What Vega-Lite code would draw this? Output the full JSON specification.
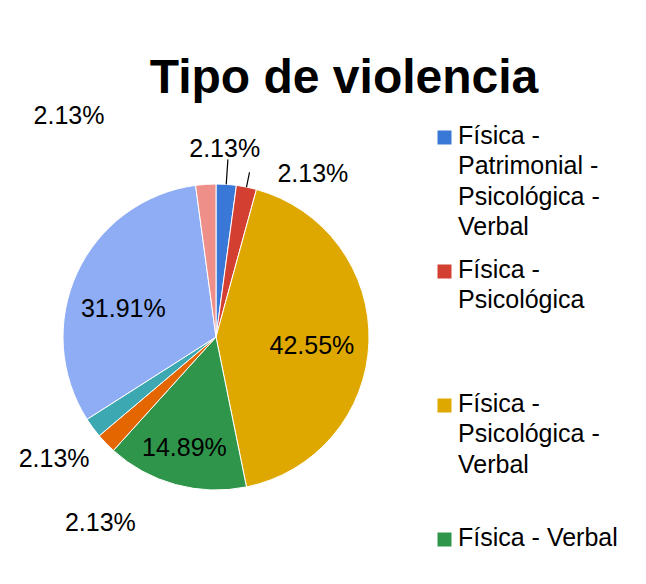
{
  "$schema": "https://vega.github.io/schema/vega-lite/v6.json",
  "width": 306,
  "height": 306,
  "autosize": "none",
  "padding": {"left": 63, "top": 184, "right": 277, "bottom": 94},
  "background": "white",
  "config": {
    "view": {"stroke": null},
    "font": "Liberation Sans",
    "style": {"guide-label": {"lineHeight": 30.5, "dy": -14}}
  },
  "title": {
    "text": "Tipo de violencia",
    "font": "Liberation Sans",
    "fontSize": 48,
    "fontWeight": "bold",
    "color": "black",
    "anchor": "middle",
    "frame": "group",
    "dx": 128,
    "offset": 1
  },
  "data": {
    "values": [
      {"tipo": "Física - Patrimonial - Psicológica - Verbal", "p": 0.0213, "orden": 1},
      {"tipo": "Física - Psicológica", "p": 0.0213, "orden": 2},
      {"tipo": "Física - Psicológica - Verbal", "p": 0.4255, "orden": 3},
      {"tipo": "Física - Verbal", "p": 0.1489, "orden": 4},
      {"tipo": "Patrimonial - Psicológica", "p": 0.0213, "orden": 5},
      {"tipo": "Psicológica", "p": 0.0213, "orden": 6},
      {"tipo": "Psicológica - Verbal", "p": 0.3191, "orden": 7},
      {"tipo": "Verbal", "p": 0.0213, "orden": 8}
    ]
  },
  "encoding": {
    "theta": {"field": "p", "type": "quantitative", "stack": true},
    "order": {"field": "orden", "type": "quantitative"}
  },
  "layer": [
    {
      "mark": {"type": "arc", "stroke": "white", "strokeWidth": 1},
      "encoding": {
        "color": {
          "field": "tipo",
          "type": "nominal",
          "scale": {
            "domain": ["Física - Patrimonial - Psicológica - Verbal", "Física - Psicológica", "Física - Psicológica - Verbal", "Física - Verbal", "Patrimonial - Psicológica", "Psicológica", "Psicológica - Verbal", "Verbal"],
            "range": ["#3A78D8", "#D33F31", "#DFA800", "#2F954B", "#E36600", "#3CA9B2", "#8EADF4", "#EE8F89"]
          },
          "legend": {
            "title": null,
            "orient": "none",
            "legendX": 369,
            "legendY": -59,
            "values": ["Física - Patrimonial - Psicológica - Verbal", "Física - Psicológica", "Física - Psicológica - Verbal", "Física - Verbal"],
            "symbolType": "square",
            "symbolSize": 196,
            "symbolStrokeWidth": 0,
            "labelFont": "Liberation Sans",
            "labelFontSize": 25,
            "labelColor": "black",
            "labelLimit": 300,
            "labelOffset": 1,
            "gridAlign": "all",
            "rowPadding": 17,
            "labelBaseline": "top",
            "labelExpr": "datum.label == 'Física - Verbal' ? datum.label : split(replace(datum.label, regexp(' - ', 'g'), ' -|'), '|')"
          }
        }
      }
    },
    {
      "mark": {"type": "arc", "radius": 178, "radius2": 153, "padAngle": 1, "filled": false, "stroke": "black", "strokeWidth": 1.2},
      "encoding": {
        "strokeOpacity": {"condition": {"test": "datum.orden == 1", "value": 1}, "value": 0}
      }
    },
    {
      "mark": {"type": "arc", "radius": 168, "radius2": 153, "padAngle": 1, "filled": false, "stroke": "black", "strokeWidth": 1.2},
      "encoding": {
        "strokeOpacity": {"condition": {"test": "datum.orden == 2", "value": 1}, "value": 0}
      }
    },
    {
      "mark": {"type": "text", "radius": 190, "dx": -4, "dy": 2, "fontSize": 25, "font": "Liberation Sans", "color": "black"},
      "encoding": {"text": {"condition": {"test": "datum.orden == 1", "field": "p", "type": "quantitative", "format": ".2%"}, "value": ""}}
    },
    {
      "mark": {"type": "text", "radius": 180, "dx": 61, "dy": 13, "fontSize": 25, "font": "Liberation Sans", "color": "black"},
      "encoding": {"text": {"condition": {"test": "datum.orden == 2", "field": "p", "type": "quantitative", "format": ".2%"}, "value": ""}}
    },
    {
      "mark": {"type": "text", "radius": 96, "dx": 0, "dy": 6, "fontSize": 25, "font": "Liberation Sans", "color": "black"},
      "encoding": {"text": {"condition": {"test": "datum.orden == 3", "field": "p", "type": "quantitative", "format": ".2%"}, "value": ""}}
    },
    {
      "mark": {"type": "text", "radius": 112, "dx": -2, "dy": 3, "fontSize": 25, "font": "Liberation Sans", "color": "black"},
      "encoding": {"text": {"condition": {"test": "datum.orden == 4", "field": "p", "type": "quantitative", "format": ".2%"}, "value": ""}}
    },
    {
      "mark": {"type": "text", "radius": 165, "dx": 3, "dy": 71, "fontSize": 25, "font": "Liberation Sans", "color": "black"},
      "encoding": {"text": {"condition": {"test": "datum.orden == 5", "field": "p", "type": "quantitative", "format": ".2%"}, "value": ""}}
    },
    {
      "mark": {"type": "text", "radius": 180, "dx": -17, "dy": 15, "fontSize": 25, "font": "Liberation Sans", "color": "black"},
      "encoding": {"text": {"condition": {"test": "datum.orden == 6", "field": "p", "type": "quantitative", "format": ".2%"}, "value": ""}}
    },
    {
      "mark": {"type": "text", "radius": 100, "dx": -2, "dy": 14, "fontSize": 25, "font": "Liberation Sans", "color": "black"},
      "encoding": {"text": {"condition": {"test": "datum.orden == 7", "field": "p", "type": "quantitative", "format": ".2%"}, "value": ""}}
    },
    {
      "mark": {"type": "text", "radius": 180, "dx": -135, "dy": -41, "fontSize": 25, "font": "Liberation Sans", "color": "black"},
      "encoding": {"text": {"condition": {"test": "datum.orden == 8", "field": "p", "type": "quantitative", "format": ".2%"}, "value": ""}}
    }
  ]
}
